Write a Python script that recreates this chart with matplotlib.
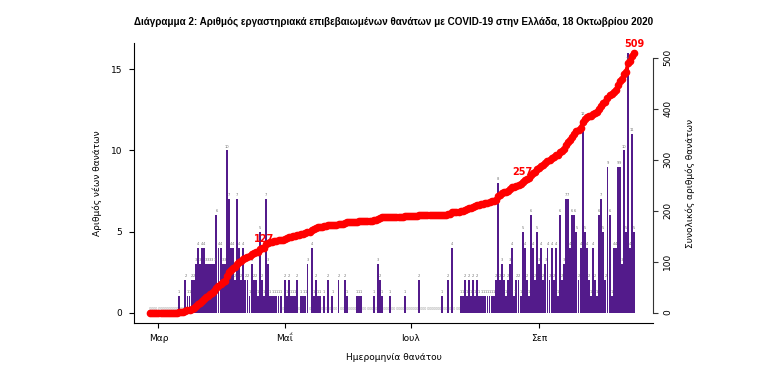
import numpy as np
import pandas as pd
import matplotlib
matplotlib.use('Agg')
import matplotlib.pyplot as plt
import matplotlib.dates as mdates

# ---------------- data ----------------
start_date = '2020-02-26'
daily_deaths = [
    # Feb 26 - Mar 10
    0, 0, 0, 0, 0, 0, 0, 0, 0, 0, 0, 0, 0, 0,
    # Mar 11 - Apr 4
    1, 0, 0, 2, 1, 1, 2, 2, 3, 4, 3, 4, 4, 3, 3, 3, 3, 3, 6, 4, 4, 3, 3, 10, 7,
    # Apr 5 - Apr 22
    4, 4, 2, 7, 4, 2, 4, 2, 2, 1, 3, 2, 2, 1, 5, 2, 1, 7,
    # Apr 23 - May 14
    3, 1, 1, 1, 1, 1, 1, 0, 2, 1, 2, 1, 1, 1, 2, 0, 1, 1, 1, 3, 0, 4,
    # May 15 - Jun 21
    1, 2, 1, 1, 0, 1, 0, 2, 0, 1, 0, 0, 2, 0, 0, 2, 1, 0, 0, 0,
    0, 1, 1, 1, 0, 0, 0, 0, 0, 1, 0, 3, 2, 1, 0, 0, 0, 1,
    # Jun 22 - Jul 28
    0, 0, 0, 0, 0, 0, 1, 0, 0, 0, 0, 0, 0, 2, 0, 0, 0, 0, 0, 0,
    0, 0, 0, 0, 1, 0, 0, 2, 0, 4, 0, 0, 0, 1, 1, 2, 1,
    # Jul 29 - Aug 11
    2, 1, 2, 1, 2, 1, 1, 1, 1, 1, 1, 1, 1, 2,
    # Aug 12 - Aug 25
    8, 2, 3, 2, 1, 2, 3, 4, 1, 2, 2, 1, 5, 4,
    # Aug 26 - Sep 4
    2, 1, 6, 4, 2, 5, 3, 4, 2, 3,
    # Sep 5 - Sep 21
    4, 2, 4, 2, 4, 1, 6, 2, 3, 7, 7, 4, 6, 6, 5, 2, 4,
    # Sep 22 - Oct 17
    12, 5, 4, 2, 1, 4, 2, 1, 6, 7, 5, 2, 9, 6, 1, 4, 4, 9, 9, 3, 10, 5, 16, 4, 11, 5,
]
month_ticks = ['2020-03-01', '2020-05-01', '2020-07-01', '2020-09-01']
month_labels = ['Μαρ', 'Μαΐ', 'Ιουλ', 'Σεπ']
left_ticks = [0, 5, 10, 15]
right_ticks = [0, 100, 200, 300, 400, 500]
milestone_dates = ['2020-04-21', '2020-08-24', '2020-10-17']
milestone_text = ['127', '257', '509']

title = ('Διάγραμμα 2: Αριθμός εργαστηριακά επιβεβαιωμένων θανάτων '
         'με COVID-19 στην Ελλάδα, 18 Οκτωβρίου 2020')
ylabel_left = 'Αριθμός νέων θανάτων'
ylabel_right = 'Συνολικός αριθμός θανάτων'
xlabel = 'Ημερομηνία θανάτου'

# ---------------- derived ----------------
dates = pd.date_range(start_date, periods=len(daily_deaths), freq='D')
cumulative = np.cumsum(daily_deaths)

plt.rcParams['font.family'] = ['DejaVu Sans']

W, H = 761, 366
fig = plt.figure(figsize=(W / 100, H / 100), dpi=100)
ax_l, ax_r, ax_t, ax_b = 134, 653, 42.9, 322.9
ax = fig.add_axes([ax_l / W, 1 - ax_b / H, (ax_r - ax_l) / W, (ax_b - ax_t) / H])

bar_color = '#531B8B'
ax.bar(dates, daily_deaths, width=0.92, color=bar_color, linewidth=0, zorder=2)

# tiny value labels
last_idx = len(daily_deaths) - 1
for i, (d, v) in enumerate(zip(dates, daily_deaths)):
    if v > 0:
        if v == max(daily_deaths):
            # sits just under the final total label
            ax.text(d, v - 0.45, str(v), fontsize=2.6, color='#707070',
                    ha='center', va='bottom', zorder=3)
        else:
            ax.text(d, v + 0.12, str(v), fontsize=2.6, color='#707070',
                    ha='center', va='bottom', zorder=3)
    else:
        ax.text(d, 0.12, '0', fontsize=2.6, color='#A0A0A0',
                ha='center', va='bottom', zorder=1)

ymax_l = max(daily_deaths)
ax.set_ylim(-0.04 * ymax_l, 1.04 * ymax_l)
mar1 = mdates.date2num(pd.Timestamp('2020-03-01'))
ax.set_xlim(mar1 - 11.84, mar1 + 239.0)

ax.set_yticks(left_ticks)
ax.set_yticklabels([str(t) for t in left_ticks], fontsize=6.5)
ax.set_xticks([mdates.date2num(pd.Timestamp(t)) for t in month_ticks])
ax.set_xticklabels(month_labels, fontsize=6.5)
ax.tick_params(axis='x', length=3.3, width=0.8, pad=4.5)
ax.tick_params(axis='y', length=3.3, width=0.8, pad=5)
for s in ['top', 'right']:
    ax.spines[s].set_visible(False)
for s in ['left', 'bottom']:
    ax.spines[s].set_linewidth(0.8)

# cumulative line
ax2 = ax.twinx()
ax2.plot(dates, cumulative, color='#FF0000', lw=2.8, marker='o', ms=4.5,
         mec='#FF0000', mfc='#FF0000', zorder=4)
ymax_r = cumulative[-1]
ax2.set_ylim(-0.04 * ymax_r, 1.04 * ymax_r)
ax2.set_xlim(ax.get_xlim())
ax2.set_yticks(right_ticks)
ax2.set_yticklabels([str(t) for t in right_ticks], fontsize=6.5,
                    rotation=90, va='center')
ax2.tick_params(axis='y', length=3.3, width=0.8, pad=4, colors='#333333',
                labelcolor='black')
for s in ['top', 'left', 'bottom']:
    ax2.spines[s].set_visible(False)
ax2.spines['right'].set_bounds(0, 500)
ax2.spines['right'].set_linewidth(0.8)
ax2.spines['right'].set_color('#333333')

for md, mt in zip(milestone_dates, milestone_text):
    ts = pd.Timestamp(md)
    val = cumulative[list(dates).index(ts)]
    ax2.annotate(mt, (ts, val), xytext=(0, 3), textcoords='offset points',
                 ha='center', va='bottom', color='#FF0000', fontsize=7,
                 fontweight='bold', zorder=5)

# texts
fig.text(393.5 / W, 1 - 22 / H, title, ha='center', va='center',
         fontsize=7.1, fontweight='bold',
         family=['Liberation Sans', 'DejaVu Sans'])
fig.text(97 / W, 1 - 183 / H, ylabel_left, rotation=90, ha='center',
         va='center', fontsize=6.5)
fig.text(690 / W, 1 - 183 / H, ylabel_right, rotation=90, ha='center',
         va='center', fontsize=6.5)
fig.text(394 / W, 1 - 357 / H, xlabel, ha='center', va='center', fontsize=6.5)

fig.savefig('out.png', dpi=100)
